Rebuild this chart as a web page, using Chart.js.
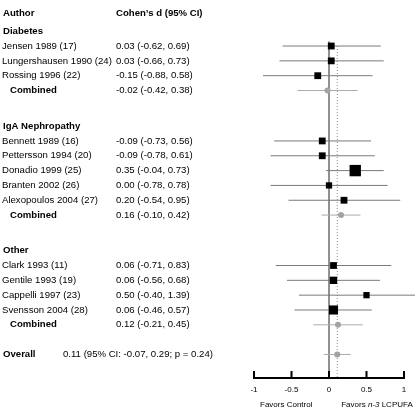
<!DOCTYPE html>
<html>
<head>
<meta charset="utf-8">
<script src="https://cdn.jsdelivr.net/npm/chart.js@4.4.0/dist/chart.umd.min.js"></script>
<style>
  html, body { margin: 0; padding: 0; background: #fff; }
  #wrap { position: relative; width: 415px; height: 409px; }
</style>
</head>
<body>
<div id="wrap"><canvas id="forestChart"></canvas></div>
<script>
// groups and studies (Cohen's d with 95% CI)
const groups = ['Diabetes', 'IgA Nephropathy', 'Other'];
const studies = [
  'Jensen 1989 (17)', 'Lungershausen 1990 (24)', 'Rossing 1996 (22)',
  'Bennett 1989 (16)', 'Pettersson 1994 (20)', 'Donadio 1999 (25)', 'Branten 2002 (26)', 'Alexopoulos 2004 (27)',
  'Clark 1993 (11)', 'Gentile 1993 (19)', 'Cappelli 1997 (23)', 'Svensson 2004 (28)'
];
const studyGroup = [0, 0, 0, 1, 1, 1, 1, 1, 2, 2, 2, 2];
const studyD  = [0.03, 0.03, -0.15, -0.09, -0.09, 0.35, 0.00, 0.20, 0.06, 0.06, 0.50, 0.06];
const studyLo = [-0.62, -0.66, -0.88, -0.73, -0.78, -0.04, -0.78, -0.54, -0.71, -0.56, -0.40, -0.46];
const studyHi = [0.69, 0.73, 0.58, 0.56, 0.61, 0.73, 0.78, 0.95, 0.83, 0.68, 1.39, 0.57];
// relative study weights (box area)
const studyWeight = [7.4, 7.4, 7.4, 7.4, 7.4, 20.7, 6.3, 7.4, 7.4, 8.7, 6.3, 13.2];

const combinedD  = [-0.02, 0.16, 0.12];
const combinedLo = [-0.42, -0.10, -0.21];
const combinedHi = [0.38, 0.42, 0.45];

const overallD = 0.11;
const overallLo = -0.07;
const overallHi = 0.29;
const overallP = 0.24;

const xTicks = [-1, -0.5, 0, 0.5, 1];

// row layout
const SECTION_GAP = 1.4;
const HEADER_ROW = -1.2;
const AXIS_ROW = 23.385;
const studyRow = [], groupRow = [], combinedRow = [];
let r = 0;
groups.forEach((g, gi) => {
  groupRow[gi] = r++;
  studies.forEach((s, i) => { if (studyGroup[i] === gi) studyRow[i] = r++; });
  combinedRow[gi] = r;
  r += 1 + SECTION_GAP;
});
const overallRow = combinedRow[combinedRow.length - 1] + 2;

const fmt = v => v.toFixed(2);
const ciText = (d, lo, hi) => fmt(d) + ' (' + fmt(lo) + ', ' + fmt(hi) + ')';

const FONT = '"Liberation Sans", Arial, sans-serif';

const datasets = [];
// study boxes
datasets.push({
  data: studies.map((s, i) => ({x: studyD[i], y: studyRow[i]})),
  pointStyle: 'rect',
  pointRadius: studyWeight.map(w => 2.5 * Math.sqrt(w) / Math.SQRT2),
  backgroundColor: '#000', borderWidth: 0, order: 0
});
// combined and overall markers
datasets.push({
  data: combinedD.map((d, gi) => ({x: d, y: combinedRow[gi]})).concat([{x: overallD, y: overallRow}]),
  pointStyle: 'circle', pointRadius: 3,
  backgroundColor: '#a3a3a3', borderWidth: 0, order: 0
});
// study CIs
studies.forEach((s, i) => {
  datasets.push({
    data: [{x: studyLo[i], y: studyRow[i]}, {x: studyHi[i], y: studyRow[i]}],
    showLine: true, borderColor: '#7a7a7a', borderWidth: 1, pointRadius: 0, clip: false, order: 1
  });
});
// combined CIs
combinedD.forEach((d, gi) => {
  datasets.push({
    data: [{x: combinedLo[gi], y: combinedRow[gi]}, {x: combinedHi[gi], y: combinedRow[gi]}],
    showLine: true, borderColor: '#ababab', borderWidth: 1, pointRadius: 0, clip: false, order: 1
  });
});
datasets.push({
  data: [{x: overallLo, y: overallRow}, {x: overallHi, y: overallRow}],
  showLine: true, borderColor: '#ababab', borderWidth: 1, pointRadius: 0, clip: false, order: 1
});
// no-effect line and overall estimate line
datasets.push({
  data: [{x: 0, y: studyRow[0] - 0.3}, {x: 0, y: AXIS_ROW}],
  showLine: true, borderColor: '#808080', borderWidth: 1, pointRadius: 0, order: 2
});
datasets.push({
  data: [{x: overallD, y: studyRow[0]}, {x: overallD, y: AXIS_ROW}],
  showLine: true, borderColor: '#8c8c8c', borderWidth: 1, borderDash: [1, 2], pointRadius: 0, order: 2
});

//draws the table text and the bottom axis
const forestText = {
  id: 'forestText',
  afterDraw(chart) {
    const ctx = chart.ctx, xs = chart.scales.x, ys = chart.scales.y;
    const reg = '9.6px ' + FONT, bold = 'bold 9.6px ' + FONT, small = '8px ' + FONT;
    ctx.save();
    ctx.fillStyle = '#000';
    ctx.textBaseline = 'middle';
    const put = (t, px, row, font, align) => {
      ctx.font = font; ctx.textAlign = align || 'left';
      ctx.fillText(t, px, ys.getPixelForValue(row));
    };
    put('Author', 3, HEADER_ROW, bold);
    put('Cohen\u2019s d (95% CI)', 116, HEADER_ROW, bold);
    groups.forEach((g, gi) => {
      put(g, 3, groupRow[gi], bold);
      put('Combined', 10, combinedRow[gi], bold);
      put(ciText(combinedD[gi], combinedLo[gi], combinedHi[gi]), 116, combinedRow[gi], reg);
    });
    studies.forEach((s, i) => {
      put(s, 2, studyRow[i], reg);
      put(ciText(studyD[i], studyLo[i], studyHi[i]), 116, studyRow[i], reg);
    });
    put('Overall', 3, overallRow, bold);
    put(fmt(overallD) + ' (95% CI: ' + fmt(overallLo) + ', ' + fmt(overallHi) + '; p = ' + fmt(overallP) + ')', 63, overallRow, reg);

    // axis
    const ay = ys.getPixelForValue(AXIS_ROW);
    ctx.strokeStyle = '#000';
    ctx.lineWidth = 2;
    ctx.beginPath();
    ctx.moveTo(xs.getPixelForValue(xTicks[0]) - 1, ay);
    ctx.lineTo(xs.getPixelForValue(xTicks[xTicks.length - 1]) + 1, ay);
    xTicks.forEach(t => {
      const px = xs.getPixelForValue(t);
      ctx.moveTo(px, ay);
      ctx.lineTo(px, ay - 7);
    });
    ctx.stroke();
    ctx.font = small;
    ctx.textAlign = 'center';
    xTicks.forEach(t => ctx.fillText(String(t), xs.getPixelForValue(t), ay + 12));

    // favors labels
    const ly = ay + 27;
    ctx.fillText('Favors Control', xs.getPixelForValue(-0.57), ly);
    const parts = [['Favors ', small], ['n-3', 'italic ' + small], [' LCPUFA', small]];
    let w = 0;
    parts.forEach(p => { ctx.font = p[1]; w += ctx.measureText(p[0]).width; });
    let px = xs.getPixelForValue(0.64) - w / 2;
    ctx.textAlign = 'left';
    parts.forEach(p => { ctx.font = p[1]; ctx.fillText(p[0], px, ly); px += ctx.measureText(p[0]).width; });
    ctx.restore();
  }
};

new Chart('forestChart', {
  type: 'scatter',
  data: {datasets: datasets},
  options: {
    responsive: true,
    maintainAspectRatio: false,
    animation: false,
    layout: {autoPadding: false, padding: {left: 254, right: 11, top: 0, bottom: 0}},
    plugins: {legend: {display: false}, tooltip: {enabled: false}},
    scales: {
      x: {type: 'linear', min: -1, max: 1, display: false},
      y: {type: 'linear', reverse: true, min: -2.104, max: 25.476, display: false}
    }
  },
  plugins: [forestText]
});
</script>
</body>
</html>
